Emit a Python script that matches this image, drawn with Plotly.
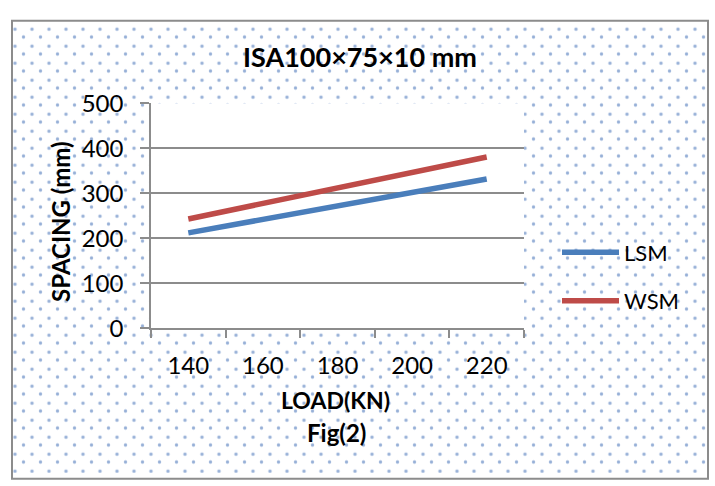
import plotly.graph_objects as go

# ---- data ----
loads = ["140", "160", "180", "200", "220"]
lsm = [212, 242, 272, 302, 332]
wsm = [243, 278, 312, 347, 381]

W, H = 715, 486
FONT = "Lato"
GRID = "#8c8c8c"
BLUE = "#4A7EBB"
RED = "#BE4B48"
DOT = "#2F62B0"

# plot area in pixels
PL, PR, PT, PB = 151, 524, 93, 332
# chart border in pixels
BL, BR, BT, BB = 12, 708, 5, 492

def px(x):
    return x / W

def py(y):
    return 1 - y / H

fig = go.Figure()

# dotted chart-area background (4 strips around plot area), drawn twice
# with half-tile offset to give a staggered dot lattice
sx = [BL, BR, BR, BL, BL, None,
      BL, BR, BR, BL, BL, None,
      BL, PL, PL, BL, BL, None,
      PR, BR, BR, PR, PR]
sy = [BT, BT, PT, PT, BT, None,
      PB, PB, BB, BB, PB, None,
      PT, PT, PB, PB, PT, None,
      PT, PT, PB, PB, PT]
TILE = 17
for ax, ay in (("x", "y"), ("x2", "y2")):
    fig.add_trace(go.Scatter(
        x=sx, y=sy, xaxis=ax, yaxis=ay, mode="lines", fill="toself",
        line=dict(width=0), fillcolor="rgba(0,0,0,0)",
        fillpattern=dict(shape=".", size=TILE, solidity=0.03,
                         fgcolor=DOT, bgcolor="rgba(0,0,0,0)"),
        hoverinfo="skip", showlegend=False,
    ))

fig.add_trace(go.Scatter(x=loads, y=lsm, name="LSM", mode="lines",
                         xaxis="x3", yaxis="y3",
                         line=dict(color=BLUE, width=5.5), legendgroup="a"))
fig.add_trace(go.Scatter(x=loads, y=wsm, name="WSM", mode="lines",
                         xaxis="x3", yaxis="y3",
                         line=dict(color=RED, width=5.5), legendgroup="b"))

# origins of the two dot lattices (pixels)
OA = (6.5, 5.0)
OB = (OA[0] + TILE / 2, OA[1] + 8.3)

fig.update_layout(
    width=W, height=H,
    margin=dict(l=0, r=0, t=0, b=0),
    paper_bgcolor="white", plot_bgcolor="rgba(0,0,0,0)",
    font=dict(family=FONT, color="black", size=22),
    xaxis=dict(domain=[px(OA[0]), 1], range=[OA[0], W], visible=False,
               anchor="y", fixedrange=True),
    yaxis=dict(domain=[0, py(OA[1])], range=[H, OA[1]], visible=False,
               anchor="x", fixedrange=True),
    xaxis2=dict(domain=[px(OB[0]), 1], range=[OB[0], W], visible=False,
                anchor="y2", fixedrange=True),
    yaxis2=dict(domain=[0, py(OB[1])], range=[H, OB[1]], visible=False,
                anchor="x2", fixedrange=True),
    xaxis3=dict(
        type="category", domain=[px(PL), px(PR)], range=[-0.5, 4.5],
        tickson="boundaries", ticks="outside", ticklen=8, tickcolor=GRID,
        tickwidth=1.5, showline=True, linecolor=GRID, linewidth=1.5,
        showgrid=False, tickfont=dict(size=24), ticklabelstandoff=15,
        anchor="y3",
    ),
    yaxis3=dict(
        domain=[py(PB), py(PT)], range=[0, 500], dtick=100,
        ticks="outside", ticklen=9, tickcolor=GRID, tickwidth=1.5,
        showline=True, linecolor=GRID, linewidth=1.5,
        showgrid=True, gridcolor=GRID, gridwidth=1.5, zeroline=False,
        tickfont=dict(size=24), ticklabelstandoff=12, anchor="x3",
    ),
    legend=dict(x=px(557), y=py(229), xanchor="left", yanchor="top",
                font=dict(size=22), bgcolor="rgba(0,0,0,0)",
                tracegroupgap=17, itemwidth=57),
    showlegend=True,
    shapes=[dict(type="rect", xref="paper", yref="paper",
                 x0=px(BL), x1=px(BR), y0=py(BB), y1=py(BT),
                 line=dict(color="#8c8c8c", width=2), layer="above")],
    annotations=[
        dict(text="<b>ISA100×75×10 mm</b>", x=px(360), y=py(43),
             xref="paper", yref="paper", showarrow=False,
             font=dict(size=27), xanchor="center", yanchor="middle"),
        dict(text="<b>SPACING (mm)</b>", x=px(61), y=py(219),
             xref="paper", yref="paper", showarrow=False, textangle=-90,
             font=dict(size=24), xanchor="center", yanchor="middle"),
        dict(text="<b>LOAD(KN)</b>", x=px(335), y=py(408),
             xref="paper", yref="paper", showarrow=False,
             font=dict(size=23), xanchor="center", yanchor="middle"),
        dict(text="<b>Fig(2)</b>", x=px(336), y=py(443),
             xref="paper", yref="paper", showarrow=False,
             font=dict(size=24), xanchor="center", yanchor="middle"),
    ],
)

fig.write_html("out.html")
